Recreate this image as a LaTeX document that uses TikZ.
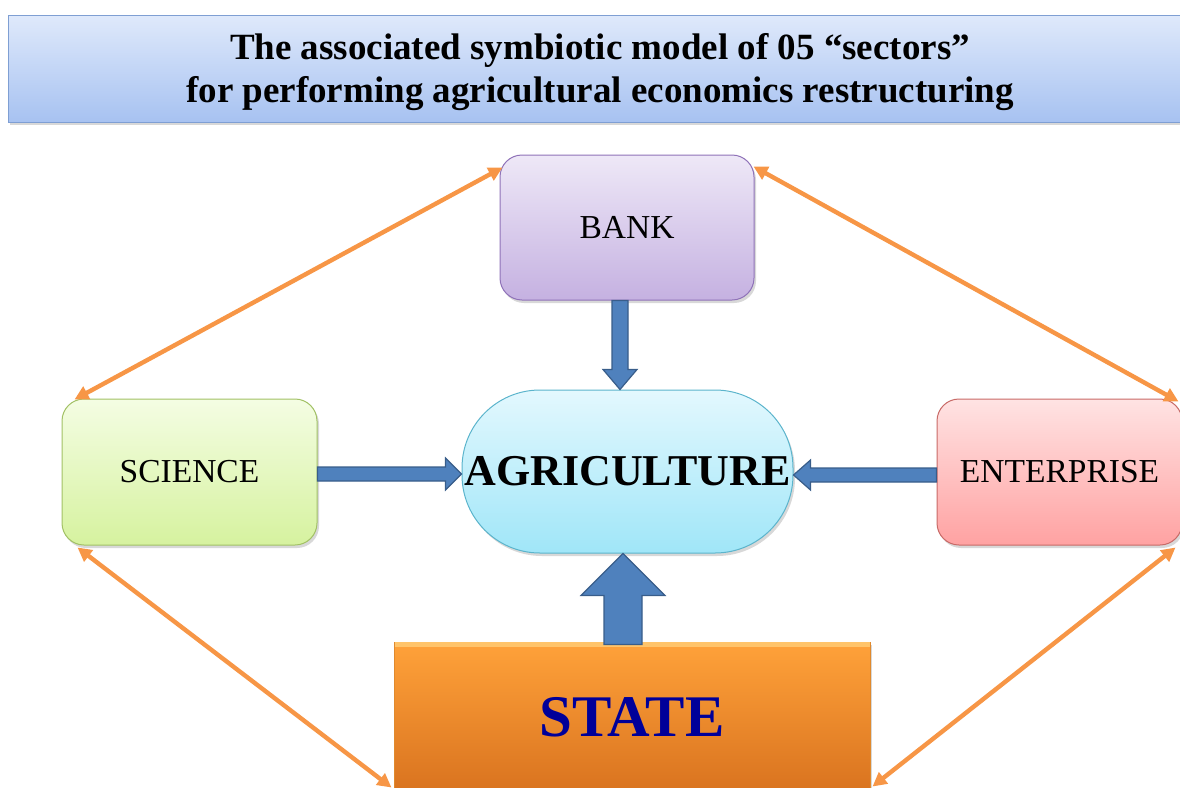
\documentclass[tikz,border=0pt]{standalone}
\usepackage{fontspec}
\setmainfont{Liberation Serif}
\usetikzlibrary{arrows.meta,calc,shadows}
\definecolor{ttop}{HTML}{DFE9FB}
\definecolor{tbot}{HTML}{A7C2F1}
\definecolor{tbrd}{HTML}{7F9FD3}
\definecolor{btop}{HTML}{EEE8F7}
\definecolor{bbot}{HTML}{C5B1E1}
\definecolor{bbrd}{HTML}{8F72B8}
\definecolor{stop}{HTML}{F4FDE3}
\definecolor{sbot}{HTML}{D6F29F}
\definecolor{sbrd}{HTML}{A2C165}
\definecolor{etop}{HTML}{FFE3E3}
\definecolor{ebot}{HTML}{FFA2A2}
\definecolor{ebrd}{HTML}{C86A67}
\definecolor{atop}{HTML}{E3F8FE}
\definecolor{abot}{HTML}{A0E6F8}
\definecolor{abrd}{HTML}{5BB4CC}
\definecolor{otop}{HTML}{FFA23A}
\definecolor{obot}{HTML}{D9731F}
\definecolor{obrd}{HTML}{E08A2E}
\definecolor{ohi}{HTML}{FFC46A}
\definecolor{oline}{HTML}{F79646}
\definecolor{bfill}{HTML}{4F81BD}
\definecolor{bbord}{HTML}{385D8A}
\definecolor{statetxt}{HTML}{000099}
\begin{document}
\begin{tikzpicture}[x=1pt,y=-1pt,
  softshadow/.style={drop shadow={shadow xshift=2pt,shadow yshift=-3pt,opacity=.22,fill=black!70}},
  sectorbox/.style={rectangle,rounded corners=22pt,line width=1pt,softshadow,
    font=\fontsize{33.5}{40}\selectfont,inner sep=0pt},
  link/.style={draw=oline,line width=4.4pt,
    {Triangle[length=14pt,width=14pt]}-{Triangle[length=14pt,width=14pt]},shorten >=0pt,shorten <=0pt},
  blockarrow/.style={fill=bfill,draw=bbord,line width=1.2pt,line join=miter}]
\useasboundingbox (0,0) rectangle (1180,787);

% title
\node[rectangle,draw=tbrd,line width=1pt,top color=ttop,bottom color=tbot,softshadow,
  minimum width=1176pt,minimum height=107pt,inner sep=0pt] (title) at (596,68.5) {};
\node[align=center,inner sep=0pt,font=\bfseries\fontsize{37}{43}\selectfont] (titletext)
  at ($(title.center)+(4,4)$)
  {The associated symbiotic model of 05 “sectors”\\for performing agricultural economics restructuring};

% sector boxes
\node[sectorbox,draw=bbrd,top color=btop,bottom color=bbot,minimum width=254pt,minimum height=145pt] (bank) at (627,227.5) {BANK};
\node[sectorbox,draw=sbrd,top color=stop,bottom color=sbot,minimum width=255pt,minimum height=146pt] (science) at (189.5,472) {SCIENCE};
\node[sectorbox,draw=ebrd,top color=etop,bottom color=ebot,minimum width=245pt,minimum height=146pt] (enterprise) at (1059.5,472) {ENTERPRISE};

% agriculture
\node[rectangle,rounded corners=78pt,draw=abrd,line width=1pt,top color=atop,bottom color=abot,softshadow,
  minimum width=331pt,minimum height=163pt,inner sep=0pt,
  font=\bfseries\fontsize{44}{50}\selectfont] (agri) at (627.5,471.5) {AGRICULTURE};

% state
\node[rectangle,draw=obrd,line width=1pt,top color=otop,bottom color=obot,softshadow,
  minimum width=476pt,minimum height=150pt,inner sep=0pt,text=statetxt,
  font=\bfseries\fontsize{59}{66}\selectfont] (state) at (632,717) {STATE};
\fill[ohi] ($(state.north west)+(1,0.5)$) rectangle ($(state.north east)+(-1,5)$);

% orange double-headed links
\coordinate (l1a) at ($(bank.north west)+(3,13)$);
\coordinate (l1b) at ($(science.north west)+(13,1)$);
\coordinate (l2a) at ($(bank.north east)+(-1,12)$);
\coordinate (l2b) at ($(enterprise.north east)+(-4,3)$);
\coordinate (l3a) at ($(science.south west)+(16,2)$);
\coordinate (l3b) at ($(state.south west)+(-2,-5)$);
\coordinate (l4a) at ($(enterprise.south east)+(-7,2)$);
\coordinate (l4b) at ($(state.south east)+(2,-6)$);
\draw[link] (l1a) -- (l1b);
\draw[link] (l2a) -- (l2b);
\draw[link] (l3a) -- (l3b);
\draw[link] (l4a) -- (l4b);

% block arrows
\coordinate (ba1) at ($(bank.south)+(-7,0)$);
\coordinate (ba2) at ($(agri.north)+(-7.5,0)$);
\draw[blockarrow] ($(ba1)+(-8,0)$) -- ($(ba2)+(-8,-20)$) -- ($(ba2)+(-17,-20)$) -- (ba2)
  -- ($(ba2)+(17,-20)$) -- ($(ba2)+(8,-20)$) -- ($(ba1)+(8,0)$) -- cycle;

\coordinate (sa1) at ($(science.east)+(0,2)$);
\coordinate (sa2) at ($(agri.west)+(0,2.5)$);
\draw[blockarrow] ($(sa1)+(0,-7)$) -- ($(sa2)+(-16,-7)$) -- ($(sa2)+(-16,-16)$) -- (sa2)
  -- ($(sa2)+(-16,16)$) -- ($(sa2)+(-16,7)$) -- ($(sa1)+(0,7)$) -- cycle;

\coordinate (ea1) at ($(enterprise.west)+(0,3)$);
\coordinate (ea2) at ($(agri.east)+(0,3.5)$);
\draw[blockarrow] ($(ea1)+(0,-7)$) -- ($(ea2)+(17,-7)$) -- ($(ea2)+(17,-15)$) -- (ea2)
  -- ($(ea2)+(17,15)$) -- ($(ea2)+(17,7)$) -- ($(ea1)+(0,7)$) -- cycle;

\coordinate (sta1) at ($(state.north)+(-9,3)$);
\coordinate (sta2) at ($(agri.south)+(-4.5,0)$);
\draw[blockarrow] ($(sta1)+(-19,0)$) -- ($(sta2)+(-19,42)$) -- ($(sta2)+(-42,42)$) -- (sta2)
  -- ($(sta2)+(42,42)$) -- ($(sta2)+(19,42)$) -- ($(sta1)+(19,0)$) -- cycle;
\end{tikzpicture}
\end{document}
